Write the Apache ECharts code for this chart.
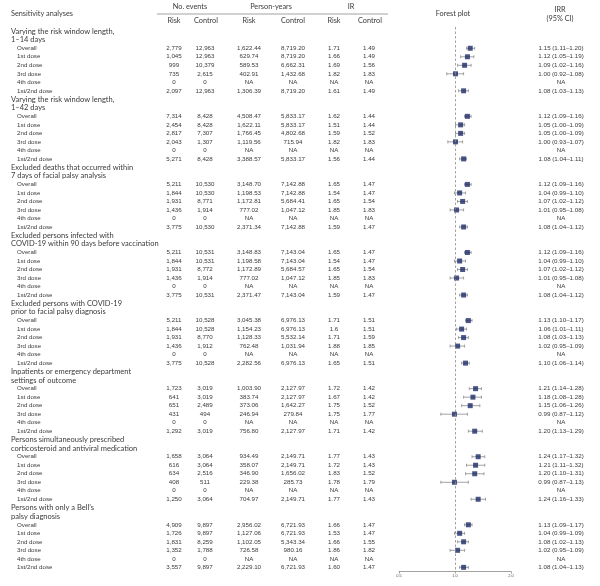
<!DOCTYPE html>
<html>
<head>
<meta charset="utf-8">
<script src="https://cdn.jsdelivr.net/npm/echarts@6/dist/echarts.min.js"></script>
<style>
  html, body { margin: 0; padding: 0; background: #fff; }
  #chart { width: 600px; height: 586px; }
</style>
</head>
<body>
<div id="chart"></div>
<script>
// ---- data ----
var groupTitles = [
  ['Varying the risk window length,', '1–14 days'],
  ['Varying the risk window length,', '1–42 days'],
  ['Excluded deaths that occurred within', '7 days of facial palsy analysis'],
  ['Excluded persons infected with', 'COVID-19 within 90 days before vaccination'],
  ['Excluded persons with COVID-19', 'prior to facial palsy diagnosis'],
  ['Inpatients or emergency department', 'settings of outcome'],
  ['Persons simultaneously prescribed', 'corticosteroid and antiviral medication'],
  ['Persons with only a Bell\u2019s', 'palsy diagnosis']
];
var doseLabels = ['Overall', '1st dose', '2nd dose', '3rd dose', '4th dose', '1st/2nd dose'];

var eventsRisk = [
  '2,779', '1,045', '999', '735', '0', '2,097',
  '7,314', '2,454', '2,817', '2,043', '0', '5,271',
  '5,211', '1,844', '1,931', '1,436', '0', '3,775',
  '5,211', '1,844', '1,931', '1,436', '0', '3,775',
  '5,211', '1,844', '1,931', '1,436', '0', '3,775',
  '1,723', '641', '651', '431', '0', '1,292',
  '1,658', '616', '634', '408', '0', '1,250',
  '4,909', '1,726', '1,831', '1,352', '0', '3,557'
];
var eventsControl = [
  '12,963', '12,963', '10,379', '2,615', '0', '12,963',
  '8,428', '8,428', '7,307', '1,307', '0', '8,428',
  '10,530', '10,530', '8,771', '1,914', '0', '10,530',
  '10,531', '10,531', '8,772', '1,914', '0', '10,531',
  '10,528', '10,528', '8,770', '1,912', '0', '10,528',
  '3,019', '3,019', '2,489', '494', '0', '3,019',
  '3,064', '3,064', '2,516', '511', '0', '3,064',
  '9,897', '9,897', '8,259', '1,788', '0', '9,897'
];
var pyRisk = [
  '1,622.44', '629.74', '589.53', '402.91', 'NA', '1,306.39',
  '4,508.47', '1,622.11', '1,766.45', '1,119.56', 'NA', '3,388.57',
  '3,148.70', '1,198.53', '1,172.81', '777.02', 'NA', '2,371.34',
  '3,148.83', '1,198.58', '1,172.89', '777.02', 'NA', '2,371.47',
  '3,045.38', '1,154.23', '1,128.33', '762.48', 'NA', '2,282.56',
  '1,003.90', '383.74', '373.06', '246.94', 'NA', '756.80',
  '934.49', '358.07', '346.90', '229.38', 'NA', '704.97',
  '2,956.02', '1,127.06', '1,102.05', '726.58', 'NA', '2,229.10'
];
var pyControl = [
  '8,719.20', '8,719.20', '6,662.31', '1,432.68', 'NA', '8,719.20',
  '5,833.17', '5,833.17', '4,802.68', '715.94', 'NA', '5,833.17',
  '7,142.88', '7,142.88', '5,684.41', '1,047.12', 'NA', '7,142.88',
  '7,143.04', '7,143.04', '5,684.57', '1,047.12', 'NA', '7,143.04',
  '6,976.13', '6,976.13', '5,532.14', '1,031.94', 'NA', '6,976.13',
  '2,127.97', '2,127.97', '1,642.27', '279.84', 'NA', '2,127.97',
  '2,149.71', '2,149.71', '1,656.02', '285.73', 'NA', '2,149.71',
  '6,721.93', '6,721.93', '5,343.34', '980.16', 'NA', '6,721.93'
];
var irRisk = [
  '1.71', '1.66', '1.69', '1.82', 'NA', '1.61',
  '1.62', '1.51', '1.59', '1.82', 'NA', '1.56',
  '1.65', '1.54', '1.65', '1.85', 'NA', '1.59',
  '1.65', '1.54', '1.65', '1.85', 'NA', '1.59',
  '1.71', '1.6', '1.71', '1.88', 'NA', '1.65',
  '1.72', '1.67', '1.75', '1.75', 'NA', '1.71',
  '1.77', '1.72', '1.83', '1.78', 'NA', '1.77',
  '1.66', '1.53', '1.66', '1.86', 'NA', '1.60'
];
var irControl = [
  '1.49', '1.49', '1.56', '1.83', 'NA', '1.49',
  '1.44', '1.44', '1.52', '1.83', 'NA', '1.44',
  '1.47', '1.47', '1.54', '1.83', 'NA', '1.47',
  '1.47', '1.47', '1.54', '1.83', 'NA', '1.47',
  '1.51', '1.51', '1.59', '1.85', 'NA', '1.51',
  '1.42', '1.42', '1.52', '1.77', 'NA', '1.42',
  '1.43', '1.43', '1.52', '1.79', 'NA', '1.43',
  '1.47', '1.47', '1.55', '1.82', 'NA', '1.47'
];
var irr = [
  1.15, 1.12, 1.09, 1.00, null, 1.08,
  1.12, 1.05, 1.05, 1.00, null, 1.08,
  1.12, 1.04, 1.07, 1.01, null, 1.08,
  1.12, 1.04, 1.07, 1.01, null, 1.08,
  1.13, 1.06, 1.08, 1.02, null, 1.10,
  1.21, 1.18, 1.15, 0.99, null, 1.20,
  1.24, 1.21, 1.20, 0.99, null, 1.24,
  1.13, 1.04, 1.08, 1.02, null, 1.08
];
var ciLow = [
  1.11, 1.05, 1.02, 0.92, null, 1.03,
  1.09, 1.00, 1.00, 0.93, null, 1.04,
  1.09, 0.99, 1.02, 0.95, null, 1.04,
  1.09, 0.99, 1.02, 0.95, null, 1.04,
  1.10, 1.01, 1.03, 0.95, null, 1.06,
  1.14, 1.08, 1.06, 0.87, null, 1.13,
  1.17, 1.11, 1.10, 0.87, null, 1.16,
  1.09, 0.99, 1.02, 0.95, null, 1.04
];
var ciHigh = [
  1.20, 1.19, 1.16, 1.08, null, 1.13,
  1.16, 1.09, 1.09, 1.07, null, 1.11,
  1.16, 1.10, 1.12, 1.08, null, 1.12,
  1.16, 1.10, 1.12, 1.08, null, 1.12,
  1.17, 1.11, 1.13, 1.09, null, 1.14,
  1.28, 1.28, 1.26, 1.12, null, 1.29,
  1.32, 1.32, 1.31, 1.13, null, 1.33,
  1.17, 1.09, 1.13, 1.09, null, 1.13
];
var forestTicks = [0.5, 1.0, 2.0];

// ---- layout ----
var ROWS = groupTitles.length * (doseLabels.length + 2);
var TOP = 27;
var HEIGHT = 544.6;
var numFont = '6.2px "Liberation Sans", Arial, sans-serif';
var titleFont = '7.5px Lato, "Open Sans", sans-serif';
var headFont = '7.3px Lato, "Open Sans", sans-serif';
var textColor = '#3a3a3a';

var columns = [
  { x: 174, arr: eventsRisk },
  { x: 205, arr: eventsControl },
  { x: 249, arr: pyRisk },
  { x: 293, arr: pyControl },
  { x: 334, arr: irRisk },
  { x: 369, arr: irControl }
];

function fmtIrr(i) {
  if (irr[i] == null) return 'NA';
  return irr[i].toFixed(2) + ' (' + ciLow[i].toFixed(2) + '\u2013' + ciHigh[i].toFixed(2) + ')';
}

var cells = [];
var rowCats = [];
for (var r = 0; r < ROWS; r++) rowCats.push(String(r));

groupTitles.forEach(function (t, g) {
  var base = g * (doseLabels.length + 2);
  cells.push({ x: 11, row: base, text: t[0], align: 'left', font: titleFont });
  cells.push({ x: 11, row: base + 1, text: t[1], align: 'left', font: titleFont });
  doseLabels.forEach(function (d, k) {
    var i = g * doseLabels.length + k;
    var row = base + 2 + k;
    cells.push({ x: 17, row: row, text: d, align: 'left', font: numFont });
    columns.forEach(function (c) {
      cells.push({ x: c.x, row: row, text: c.arr[i], align: 'center', font: numFont });
    });
    cells.push({ x: 561, row: row, text: fmtIrr(i), align: 'center', font: numFont });
  });
});

var points = [], whiskers = [];
irr.forEach(function (v, i) {
  if (v == null) return;
  var g = Math.floor(i / doseLabels.length), k = i % doseLabels.length;
  var row = g * (doseLabels.length + 2) + 2 + k;
  points.push([v, row]);
  whiskers.push([ciLow[i], ciHigh[i], row]);
});

function headText(x, y, text, align) {
  return { type: 'text', x: x, y: y, silent: true,
    style: { text: text, font: headFont, fill: textColor, align: align || 'center', verticalAlign: 'middle',
             textAlign: align || 'center', textVerticalAlign: 'middle' } };
}

var chart = echarts.init(document.getElementById('chart'));
chart.setOption({
  animation: false,
  backgroundColor: '#fff',
  grid: [
    { left: 0, right: 0, top: TOP, height: HEIGHT },
    { left: 382.5, right: 71.5, top: TOP, height: HEIGHT },
    { left: 399, right: 89, top: TOP, height: HEIGHT }
  ],
  xAxis: [
    { gridIndex: 0, type: 'value', min: 0, max: 600, show: false },
    { gridIndex: 1, type: 'log', logBase: 2, min: 0.5, max: 2, show: false },
    { gridIndex: 2, type: 'log', logBase: 2, min: forestTicks[0], max: forestTicks[forestTicks.length - 1],
      splitLine: { show: false },
      axisLine: { lineStyle: { color: '#8a8a8a', width: 0.8 } },
      axisTick: { length: 2, lineStyle: { color: '#8a8a8a', width: 0.8 } },
      axisLabel: { fontSize: 4, color: '#555', margin: 2.5, fontFamily: 'Liberation Sans',
        formatter: function (v) { return (+v).toFixed(1); } } }
  ],
  yAxis: [
    { gridIndex: 0, type: 'category', data: rowCats, inverse: true, show: false },
    { gridIndex: 1, type: 'category', data: rowCats, inverse: true, show: false },
    { gridIndex: 2, type: 'value', show: false, min: 0, max: 1 }
  ],
  graphic: [
    headText(11, 14, 'Sensitivity analyses', 'left'),
    headText(190, 7, 'No. events'),
    headText(271, 7, 'Person-years'),
    headText(351, 7, 'IR'),
    { type: 'line', silent: true, shape: { x1: 157, y1: 14, x2: 388, y2: 14 },
      style: { stroke: '#8a8a8a', lineWidth: 0.8 } },
    headText(174, 21, 'Risk'),
    headText(206, 21, 'Control'),
    headText(249, 21, 'Risk'),
    headText(293, 21, 'Control'),
    headText(334, 21, 'Risk'),
    headText(370, 21, 'Control'),
    headText(453, 14, 'Forest plot'),
    headText(560, 10, 'IRR'),
    headText(560, 19, '(95% CI)')
  ],
  series: [
    {
      type: 'custom', xAxisIndex: 0, yAxisIndex: 0, silent: true,
      data: cells.map(function (c) { return [c.x, c.row]; }),
      renderItem: function (params, api) {
        var c = cells[params.dataIndex];
        var p = api.coord([api.value(0), api.value(1)]);
        return { type: 'text', x: p[0], y: p[1],
          style: { text: c.text, font: c.font, fill: textColor, align: c.align, verticalAlign: 'middle',
                   textAlign: c.align, textVerticalAlign: 'middle' } };
      }
    },
    {
      type: 'custom', xAxisIndex: 1, yAxisIndex: 1, silent: true,
      data: whiskers,
      encode: { x: [0, 1], y: 2 },
      renderItem: function (params, api) {
        var a = api.coord([api.value(0), api.value(2)]);
        var b = api.coord([api.value(1), api.value(2)]);
        var st = { stroke: '#8a8a8a', lineWidth: 0.8 };
        return { type: 'group', children: [
          { type: 'line', shape: { x1: a[0], y1: a[1], x2: b[0], y2: b[1] }, style: st },
          { type: 'line', shape: { x1: a[0], y1: a[1] - 1.5, x2: a[0], y2: a[1] + 1.5 }, style: st },
          { type: 'line', shape: { x1: b[0], y1: b[1] - 1.5, x2: b[0], y2: b[1] + 1.5 }, style: st }
        ] };
      }
    },
    {
      type: 'scatter', xAxisIndex: 1, yAxisIndex: 1, silent: true,
      data: points, symbol: 'rect', symbolSize: 5,
      itemStyle: { color: '#1b2a66' },
      z: 3,
      markLine: {
        silent: true, symbol: 'none', label: { show: false },
        lineStyle: { color: '#8a8a8a', type: [2.5, 2], width: 0.8 },
        data: [{ xAxis: 1 }]
      }
    },
    { type: 'scatter', xAxisIndex: 2, yAxisIndex: 2, data: [] }
  ]
});
</script>
</body>
</html>
